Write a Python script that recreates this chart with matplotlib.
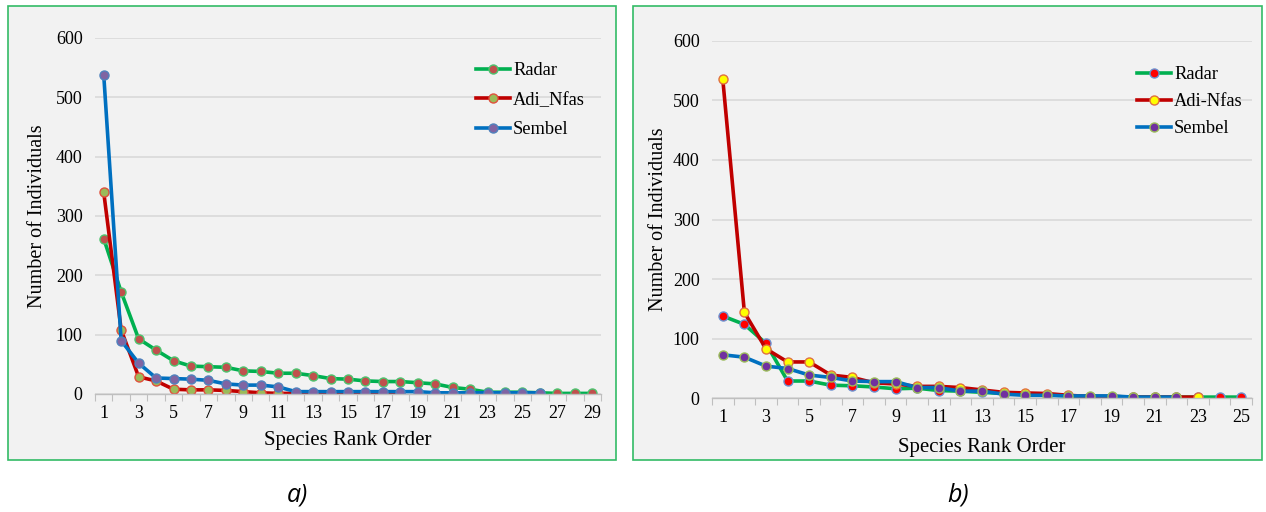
import numpy as np
import matplotlib
matplotlib.use("Agg")
import matplotlib.pyplot as plt
from matplotlib.patches import Rectangle

# panel a) values, species rank order
rank_a = list(range(1, 30))
radar_a = [262, 172, 93, 74, 56, 47, 46, 45, 39, 38, 35, 35, 31, 26, 25,
           22, 21, 21, 19, 17, 11, 8, 3, 3, 3, 2, 1, 1, 1]
adi_a = [340, 108, 29, 22, 8, 7, 7, 6, 4, 2, 1, 1, 1, 1, 1, 1, 1, 1]
sembel_a = [538, 90, 52, 27, 26, 25, 23, 17, 15, 15, 12, 4, 4, 4, 4,
            4, 4, 4, 4, 2, 2, 2, 2, 2, 2, 2]

# panel b) values
rank_b = list(range(1, 26))
radar_b = [138, 124, 92, 29, 29, 22, 21, 19, 16, 17, 13, 12, 10, 8, 8,
           6, 4, 3, 3, 2, 2, 2, 2, 2, 2]
adi_b = [535, 144, 83, 61, 61, 39, 35, 26, 24, 20, 20, 18, 14, 10, 9,
         8, 5, 3, 3, 2, 2, 2, 2]
sembel_b = [73, 69, 54, 50, 39, 35, 29, 28, 28, 18, 18, 12, 12, 7, 5,
            5, 4, 4, 4, 2, 2, 2]

y_ticks = [0, 100, 200, 300, 400, 500, 600]

GREEN = "#00B050"
RED = "#C00000"
BLUE = "#0070C0"
BG = "#F2F2F2"
SERIF = ["Liberation Serif", "DejaVu Serif"]

fig = plt.figure(figsize=(12.66, 5.12), dpi=100)
fig.patch.set_facecolor("white")

# panel frames
for x0, x1 in [(8, 616), (633, 1262)]:
    fig.patches.append(Rectangle((x0 / 1266, (512 - 460) / 512), (x1 - x0) / 1266,
                                 (460 - 6) / 512, transform=fig.transFigure,
                                 facecolor=BG, edgecolor="#33BB66", lw=1.2, zorder=-10))


def style_axis(ax, n):
    ax.set_facecolor(BG)
    ax.set_xlim(0.5, n + 0.5)
    ax.set_ylim(0, 600)
    ax.set_yticks(y_ticks)
    ax.set_xticks(list(range(1, n + 1, 2)))
    ax.set_xticks(np.arange(0.5, n + 1), minor=True)
    ax.tick_params(axis="x", which="major", length=0, pad=8, labelsize=13)
    ax.tick_params(axis="x", which="minor", length=5, color="#BFBFBF", width=0.8)
    ax.tick_params(axis="y", length=0, pad=9, labelsize=13)
    for lab in ax.get_xticklabels() + ax.get_yticklabels():
        lab.set_family(SERIF)
    ax.grid(axis="y", color="#D9D9D9", lw=1.2)
    ax.set_axisbelow(True)
    for s in ["top", "right", "left"]:
        ax.spines[s].set_visible(False)
    ax.spines["bottom"].set_color("#BFBFBF")
    ax.spines["bottom"].set_linewidth(1.0)
    ax.set_ylabel("Number of Individuals", family=SERIF, fontsize=14.5)
    ax.set_xlabel("Species Rank Order", family=SERIF, fontsize=15)


# panel a
ax1 = fig.add_axes([95 / 1266, 118 / 512, 506 / 1266, 356 / 512])
style_axis(ax1, 29)
ax1.plot(rank_a, radar_a, "-o", color=GREEN, lw=2.6, ms=6.5,
         mfc="#C0504D", mec="#4CC46E", mew=1.0, label="Radar")
ax1.plot(rank_a[:len(adi_a)], adi_a, "-o", color=RED, lw=2.6, ms=6.5,
         mfc="#9BBB59", mec="#E0503C", mew=1.0, label="Adi_Nfas")
ax1.plot(rank_a[:len(sembel_a)], sembel_a, "-o", color=BLUE, lw=2.6, ms=6.5,
         mfc="#8064A2", mec="#4F81BD", mew=1.0, label="Sembel")
ax1.yaxis.set_label_coords(-0.095, 0.5)
ax1.xaxis.set_label_coords(0.5, -0.104)
ax1.legend(loc="upper left", bbox_to_anchor=(0.753, 0.932), frameon=False,
           prop={"family": SERIF, "size": 13.3}, handlelength=1.85,
           handletextpad=0.15, labelspacing=0.68, borderpad=0, borderaxespad=0)

# panel b
ax2 = fig.add_axes([712 / 1266, 113.7 / 512, 540 / 1266, 357.6 / 512])
style_axis(ax2, 25)
ax2.plot(rank_b, radar_b, "-o", color=GREEN, lw=2.6, ms=6.5,
         mfc="#FF0000", mec="#6A8FD0", mew=1.0, label="Radar")
ax2.plot(rank_b[:len(adi_b)], adi_b, "-o", color=RED, lw=2.6, ms=6.5,
         mfc="#FFFF00", mec="#E07040", mew=1.0, label="Adi-Nfas")
ax2.plot(rank_b[:len(sembel_b)], sembel_b, "-o", color=BLUE, lw=2.6, ms=6.5,
         mfc="#7030A0", mec="#9BBB59", mew=1.0, label="Sembel")
ax2.yaxis.set_label_coords(-0.082, 0.5)
ax2.xaxis.set_label_coords(0.5, -0.112)
ax2.legend(loc="upper left", bbox_to_anchor=(0.787, 0.929), frameon=False,
           prop={"family": SERIF, "size": 13.3}, handlelength=1.85,
           handletextpad=0.15, labelspacing=0.54, borderpad=0, borderaxespad=0)

# subfigure captions
fig.text(297 / 1266, 1 - 495 / 512, "a)", style="italic", fontsize=18,
         family=["Open Sans", "DejaVu Sans"], ha="center", va="center")
fig.text(958 / 1266, 1 - 495 / 512, "b)", style="italic", fontsize=18,
         family=["Open Sans", "DejaVu Sans"], ha="center", va="center")

fig.savefig("out.png", dpi=100, facecolor="white")
